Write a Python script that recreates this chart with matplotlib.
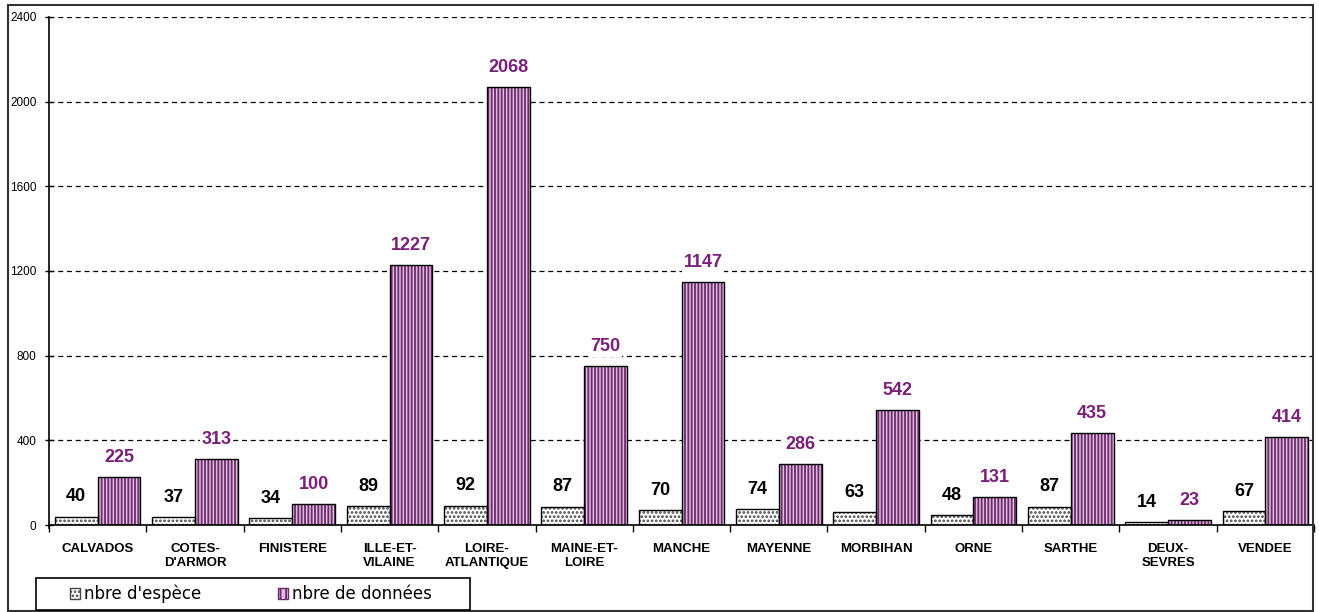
import matplotlib
matplotlib.use("Agg")
import matplotlib.pyplot as plt
from matplotlib.patches import Rectangle
import numpy as np

# departements and counts
departements = ["CALVADOS", "COTES-\nD'ARMOR", "FINISTERE", "ILLE-ET-\nVILAINE",
                "LOIRE-\nATLANTIQUE", "MAINE-ET-\nLOIRE", "MANCHE", "MAYENNE",
                "MORBIHAN", "ORNE", "SARTHE", "DEUX-\nSEVRES", "VENDEE"]
nb_especes = [40, 37, 34, 89, 92, 87, 70, 74, 63, 48, 87, 14, 67]
nb_donnees = [225, 313, 100, 1227, 2068, 750, 1147, 286, 542, 131, 435, 23, 414]
yticks = [0, 400, 800, 1200, 1600, 2000, 2400]
series = ["nbre d'espèce", "nbre de données"]

plt.rcParams['font.family'] = ['Liberation Sans', 'DejaVu Sans']
plt.rcParams['hatch.linewidth'] = 1.3

W, H = 1319, 612
fig = plt.figure(figsize=(W / 100, H / 100), dpi=100)
ax = fig.add_axes([49 / W, 1 - 525 / H, (1314 - 49) / W, (525 - 17) / H])

x = np.arange(len(departements))
w = 0.44
purple = '#7a1f7a'
mauve = '#dcbedc'
stripe = '#6e2a6e'
dots = '#444444'

# fills with hatching, then a plain black outline on top
ax.bar(x - w / 2, nb_especes, w, color='white', hatch='....',
       edgecolor=dots, linewidth=0, zorder=2)
ax.bar(x + w / 2, nb_donnees, w, color=mauve, hatch='|||||',
       edgecolor=stripe, linewidth=0, zorder=2)
b1 = ax.bar(x - w / 2, nb_especes, w, fill=False, edgecolor='black', linewidth=1, zorder=3)
b2 = ax.bar(x + w / 2, nb_donnees, w, fill=False, edgecolor='black', linewidth=1, zorder=3)

for bars, col in ((b1, 'black'), (b2, purple)):
    txts = ax.bar_label(bars, padding=8, color=col, fontsize=13, fontweight='bold')
    for t in txts:
        t.set_bbox(dict(facecolor='white', edgecolor='none', pad=1))

ax.set_xlim(-0.5, len(departements) - 0.5)
ax.set_ylim(0, 2400)
ax.set_yticks(yticks)
ax.set_yticklabels([str(v) for v in yticks], fontsize=8.5)
ax.tick_params(axis='y', direction='inout', length=6, width=1, pad=6)

# category labels centred, ticks on the boundaries
ax.set_xticks(x)
ax.set_xticklabels(departements, fontsize=9.5, fontweight='bold', linespacing=1.25)
ax.tick_params(axis='x', which='major', length=0, pad=13)
ax.set_xticks(np.arange(len(departements) + 1) - 0.5, minor=True)
ax.tick_params(axis='x', which='minor', direction='out', length=5, width=1)

for v in yticks[1:]:
    ax.axhline(v, color='black', linestyle=(0, (4, 3)), linewidth=0.9, zorder=1)

for s in ('top', 'right'):
    ax.spines[s].set_visible(False)
ax.spines['left'].set_linewidth(1.2)
ax.spines['bottom'].set_linewidth(1.2)
ax.spines['left'].set_bounds(-15, 2400)

# outer frame of the chart
fig.add_artist(Rectangle((8 / W, 1 - 611 / H), (1313 - 8) / W, (611 - 5) / H,
                         transform=fig.transFigure, fill=False,
                         edgecolor='#333333', linewidth=1.5))

# legend box at the bottom left
fig.add_artist(Rectangle((36 / W, 1 - 610 / H), (470 - 36) / W, 32 / H,
                         transform=fig.transFigure, fill=False,
                         edgecolor='black', linewidth=1.2))
h1 = Rectangle((0, 0), 1, 1, facecolor='white', hatch='....', edgecolor=dots)
h2 = Rectangle((0, 0), 1, 1, facecolor=mauve, hatch='|||', edgecolor=stripe)
fig.legend([h1, h2], series, loc='center left',
           bbox_to_anchor=(70 / W, 1 - 594 / H), ncol=2,
           prop={'family': ['DejaVu Sans'], 'size': 12},
           frameon=False, handlelength=0.6, handleheight=0.6, handletextpad=0.25,
           columnspacing=4.6, borderpad=0, borderaxespad=0)

fig.savefig('out.png', dpi=100)
